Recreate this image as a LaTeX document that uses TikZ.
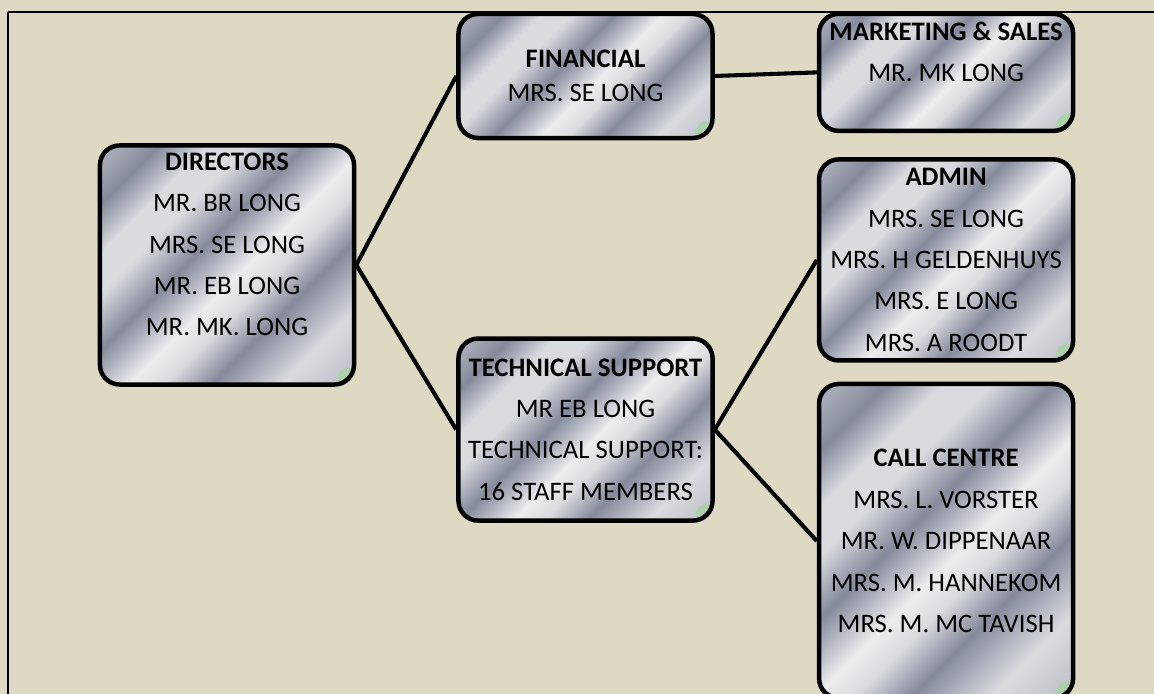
\documentclass[tikz,border=0pt]{standalone}
\usepackage{fontspec}
\setmainfont{Carlito}
\usepackage{xcolor}
\usepackage{tikz}
\usetikzlibrary{positioning}

\definecolor{paper}{HTML}{DDD9C3}
\definecolor{steelD}{HTML}{858A9C}
\definecolor{steelM}{HTML}{B9BCC5}
\definecolor{steelL}{HTML}{DADBDF}
\definecolor{steelW}{HTML}{EDEDEF}
\definecolor{glint}{HTML}{A9D3A6}

% brushed-steel fill for the boxes
\pgfdeclarehorizontalshading{steel}{100bp}{%
  color(0bp)=(steelM); color(14bp)=(steelM); color(23bp)=(steelD);
  color(30bp)=(steelL); color(36bp)=(steelL); color(44bp)=(steelD);
  color(53bp)=(steelW); color(58bp)=(steelL); color(65bp)=(steelD);
  color(75bp)=(steelL); color(86bp)=(steelM); color(100bp)=(steelM)}

\begin{document}
\begin{tikzpicture}[x=0.025cm, y=-0.025cm,
  box/.style={draw, line width=3.2pt, rounded corners=14pt, align=center,
    shading=steel, shading angle=-45, minimum width=6.35cm, inner sep=2pt,
    font=\fontsize{19}{29.5}\selectfont,
    path picture={\fill[glint, opacity=0.85] ([xshift=-19pt]path picture bounding box.south east)
      -- ([yshift=19pt]path picture bounding box.south east)
      -- (path picture bounding box.south east) -- cycle;}},
  link/.style={line width=2.9pt}]

  \fill[paper] (0,0) rectangle (1154,694);
  \useasboundingbox (0,0) rectangle (1154,694);
  \draw[line width=0.8pt] (1154,12) -- (8,12);
  \draw[line width=1.5pt] (8,12) -- (8,694);

  \node[box, minimum height=5.975cm] (dir) at (227,265)
    {\textbf{DIRECTORS}\\MR. BR LONG\\MRS. SE LONG\\MR. EB LONG\\MR. MK. LONG\\\mbox{}};
  \node[box, minimum height=3.1cm] (fin) at (585.5,76)
    {\textbf{FINANCIAL}\\[-5.5pt]MRS. SE LONG};
  \node[box, minimum height=2.925cm, right=2.55cm of fin, yshift=0.09cm] (mkt)
    {\textbf{MARKETING \& SALES}\\MR. MK LONG\\\mbox{}};
  \node[box, minimum height=5.025cm, below=0.6cm of mkt] (adm)
    {\textbf{ADMIN}\\MRS. SE LONG\\MRS. H GELDENHUYS\\MRS. E LONG\\MRS. A ROODT};
  \node[box, minimum height=7.85cm, below=0.475cm of adm] (cc)
    {\textbf{CALL CENTRE}\\MRS. L. VORSTER\\MR. W. DIPPENAAR\\MRS. M. HANNEKOM\\MRS. M. MC TAVISH};
  \node[box, minimum height=4.55cm, below=4.9cm of fin] (tech)
    {\textbf{TECHNICAL SUPPORT}\\MR EB LONG\\TECHNICAL SUPPORT:\\16 STAFF MEMBERS};

  \draw[link] (dir.east) -- (fin.west);
  \draw[link] (dir.east) -- (tech.west);
  \draw[link] (fin.east) -- (mkt.west);
  \draw[link] (tech.east) -- (adm.west);
  \draw[link] (tech.east) -- (cc.west);
\end{tikzpicture}
\end{document}
